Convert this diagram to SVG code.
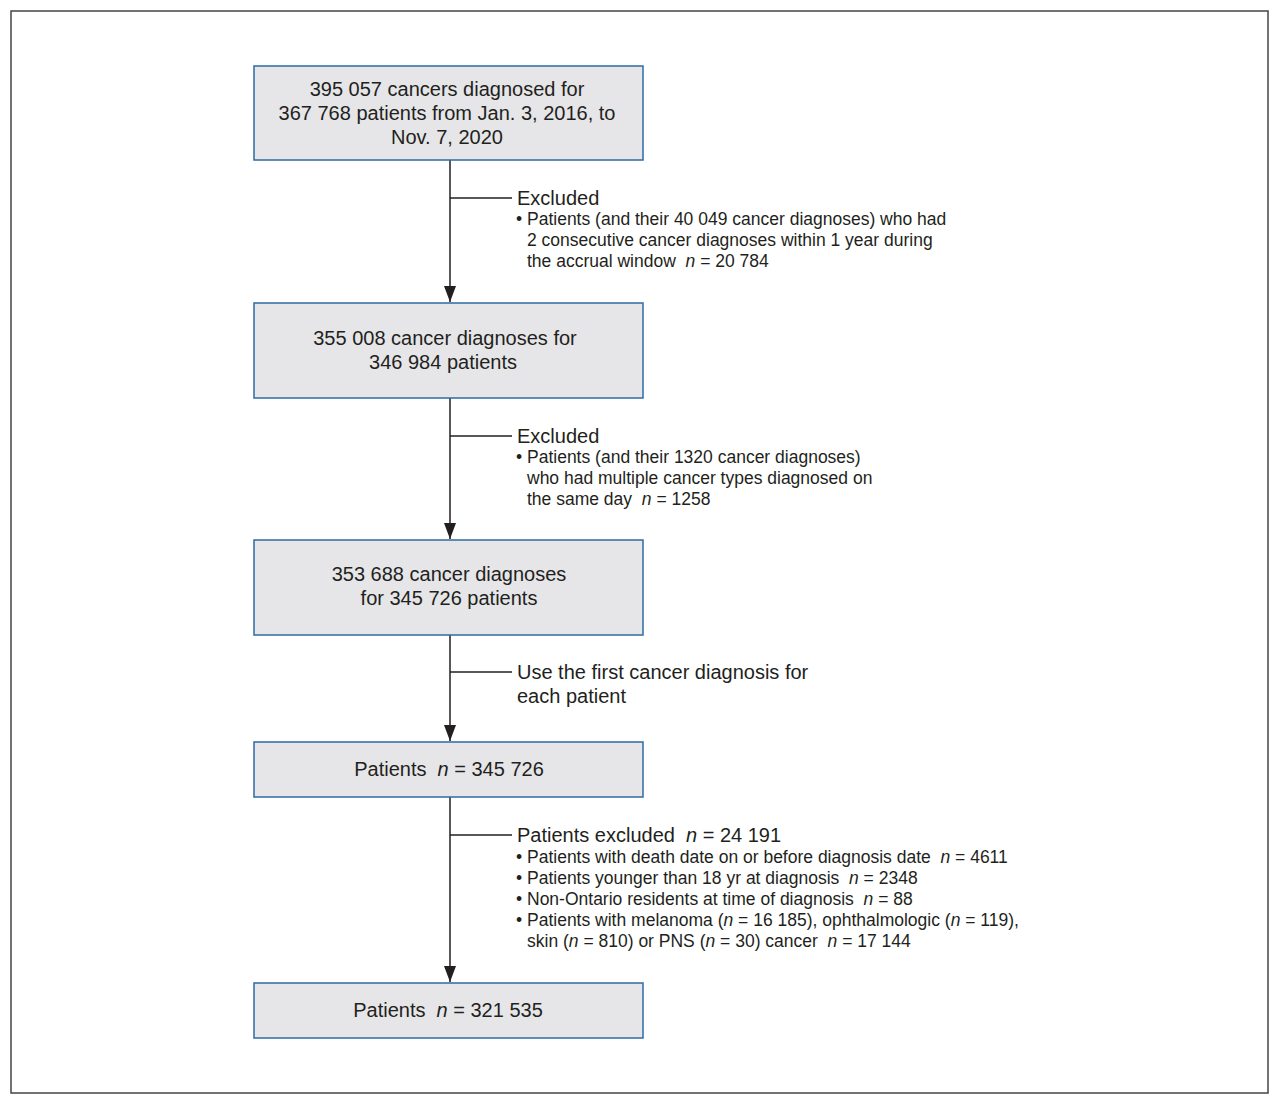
<svg xmlns="http://www.w3.org/2000/svg" width="1280" height="1105" viewBox="0 0 1280 1105">
<style>
text{white-space:pre}
.box{fill:#e6e6e8;stroke:#2f6aa6;stroke-width:1.5}
.bt{font-family:"Liberation Sans",Arial,sans-serif;font-size:20px;fill:#231f20;text-anchor:middle}
.st{font-family:"Liberation Sans",Arial,sans-serif;font-size:20px;fill:#231f20}
.bl{font-family:"Liberation Sans",Arial,sans-serif;font-size:17.5px;fill:#231f20}
.ln{stroke:#231f20;stroke-width:1.5;fill:none}
</style>
<defs>
<marker id="ah" viewBox="0 0 16 12" refX="16" refY="6" markerWidth="16" markerHeight="12" markerUnits="userSpaceOnUse" orient="auto">
<path d="M0,0 L16,6 L0,12 Z" fill="#231f20"/>
</marker>
</defs>
<rect x="11" y="11" width="1257" height="1082" fill="#fff" stroke="#444" stroke-width="1.5"/>
<g id="connectors">
<line class="ln" x1="450" y1="160" x2="450" y2="302" marker-end="url(#ah)"/>
<line class="ln" x1="450" y1="198" x2="512" y2="198"/>
<line class="ln" x1="450" y1="398" x2="450" y2="539" marker-end="url(#ah)"/>
<line class="ln" x1="450" y1="436" x2="512" y2="436"/>
<line class="ln" x1="450" y1="635" x2="450" y2="741" marker-end="url(#ah)"/>
<line class="ln" x1="450" y1="672" x2="512" y2="672"/>
<line class="ln" x1="450" y1="797" x2="450" y2="982" marker-end="url(#ah)"/>
<line class="ln" x1="450" y1="835" x2="512" y2="835"/>
</g>
<g id="n1">
<rect class="box" x="254" y="66" width="389" height="94"/>
<text class="bt" x="447" y="96">395 057 cancers diagnosed for</text>
<text class="bt" x="447" y="120">367 768 patients from Jan. 3, 2016, to</text>
<text class="bt" x="447" y="144">Nov. 7, 2020</text>
</g>
<g id="e1">
<text class="st" x="517" y="205">Excluded</text>
<text class="bl" x="516" y="225">• Patients (and their 40 049 cancer diagnoses) who had</text>
<text class="bl" x="527" y="246">2 consecutive cancer diagnoses within 1 year during</text>
<text class="bl" x="527" y="267">the accrual window  <tspan font-style="italic">n</tspan> = 20 784</text>
</g>
<g id="n2">
<rect class="box" x="254" y="303" width="389" height="95"/>
<text class="bt" x="445" y="345">355 008 cancer diagnoses for</text>
<text class="bt" x="443" y="369">346 984 patients</text>
</g>
<g id="e2">
<text class="st" x="517" y="443">Excluded</text>
<text class="bl" x="516" y="463">• Patients (and their 1320 cancer diagnoses)</text>
<text class="bl" x="527" y="484">who had multiple cancer types diagnosed on</text>
<text class="bl" x="527" y="505">the same day  <tspan font-style="italic">n</tspan> = 1258</text>
</g>
<g id="n3">
<rect class="box" x="254" y="540" width="389" height="95"/>
<text class="bt" x="449" y="581">353 688 cancer diagnoses</text>
<text class="bt" x="449" y="605">for 345 726 patients</text>
</g>
<g id="e3">
<text class="st" x="517" y="679">Use the first cancer diagnosis for</text>
<text class="st" x="517" y="703">each patient</text>
</g>
<g id="n4">
<rect class="box" x="254" y="742" width="389" height="55"/>
<text class="bt" x="449" y="776">Patients  <tspan font-style="italic">n</tspan> = 345 726</text>
</g>
<g id="e4">
<text class="st" x="517" y="842">Patients excluded  <tspan font-style="italic">n</tspan> = 24 191</text>
<text class="bl" x="516" y="863">• Patients with death date on or before diagnosis date  <tspan font-style="italic">n</tspan> = 4611</text>
<text class="bl" x="516" y="884">• Patients younger than 18 yr at diagnosis  <tspan font-style="italic">n</tspan> = 2348</text>
<text class="bl" x="516" y="905">• Non-Ontario residents at time of diagnosis  <tspan font-style="italic">n</tspan> = 88</text>
<text class="bl" x="516" y="926">• Patients with melanoma (<tspan font-style="italic">n</tspan> = 16 185), ophthalmologic (<tspan font-style="italic">n</tspan> = 119),</text>
<text class="bl" x="527" y="947">skin (<tspan font-style="italic">n</tspan> = 810) or PNS (<tspan font-style="italic">n</tspan> = 30) cancer  <tspan font-style="italic">n</tspan> = 17 144</text>
</g>
<g id="n5">
<rect class="box" x="254" y="983" width="389" height="55"/>
<text class="bt" x="448" y="1017">Patients  <tspan font-style="italic">n</tspan> = 321 535</text>
</g>
</svg>
